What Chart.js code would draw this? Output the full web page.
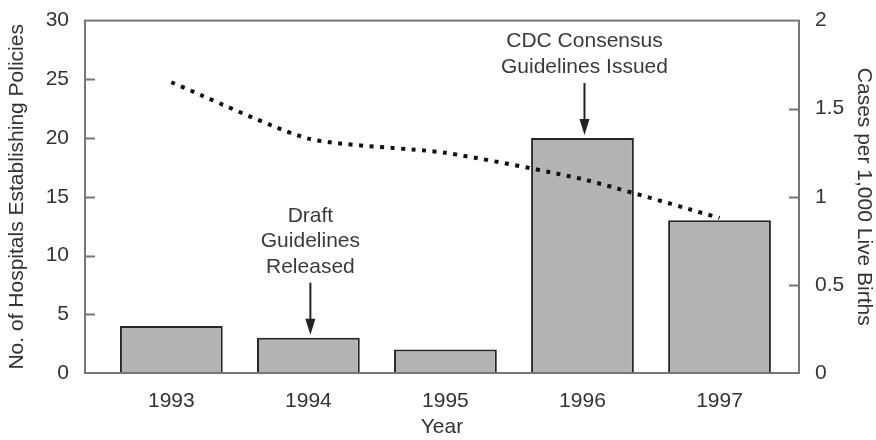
<!DOCTYPE html>
<html>
<head>
<meta charset="utf-8">
<script src="https://cdn.jsdelivr.net/npm/chart.js@4.4.1/dist/chart.umd.min.js"></script>
<style>
  body { margin: 0; background: #fff; }
</style>
</head>
<body>
<canvas id="policyChart" width="876" height="440"></canvas>
<script>
// Data
const years = [1993, 1994, 1995, 1996, 1997];
const hospitalPolicies = [4, 3, 2, 20, 13];          // left axis, bars
const casesPerThousand = [1.65, 1.33, 1.25, 1.10, 0.88]; // right axis, dotted line
const leftTicks = [0, 5, 10, 15, 20, 25, 30];
const rightTicks = [0, 0.5, 1, 1.5, 2];

// Notes pointing at bars
const noteYears = [1994, 1996];
const noteTexts = [
    ["Draft", "Guidelines", "Released"],
    ["CDC Consensus", "Guidelines Issued"]
];

const FONT = "'Liberation Sans', Arial, Helvetica, sans-serif";
const TEXT = '#333';

// frame, inward ticks and the arrow notes
const extras = {
    id: 'extras',
    afterDatasetsDraw(chart) {
        const ctx = chart.ctx;
        const a = chart.chartArea;
        const x = chart.scales.x, y = chart.scales.y, y2 = chart.scales.y2;
        ctx.save();
        ctx.strokeStyle = '#777';
        ctx.lineWidth = 2;
        ctx.strokeRect(a.left, a.top, a.right - a.left, a.bottom - a.top);

        ctx.beginPath();
        leftTicks.slice(1, -1).forEach(v => {
            const py = Math.round(y.getPixelForValue(v)) + 0.5;
            ctx.moveTo(a.left, py);
            ctx.lineTo(a.left + 10, py);
        });
        rightTicks.slice(1, -1).forEach(v => {
            const py = Math.round(y2.getPixelForValue(v)) + 0.5;
            ctx.moveTo(a.right, py);
            ctx.lineTo(a.right - 10, py);
        });
        ctx.stroke();

        ctx.font = '21px ' + FONT;
        ctx.textAlign = 'center';
        ctx.textBaseline = 'middle';
        noteYears.forEach((yr, i) => {
            const idx = years.indexOf(yr);
            const cx = x.getPixelForValue(yr) + 2;
            const tip = y.getPixelForValue(hospitalPolicies[idx]) - 3;
            const start = tip - 52;
            ctx.strokeStyle = '#222';
            ctx.fillStyle = '#222';
            ctx.lineWidth = 2;
            ctx.beginPath();
            ctx.moveTo(cx, start);
            ctx.lineTo(cx, tip - 12);
            ctx.stroke();
            ctx.beginPath();
            ctx.moveTo(cx - 5, tip - 16);
            ctx.lineTo(cx + 5, tip - 16);
            ctx.lineTo(cx, tip);
            ctx.closePath();
            ctx.fill();

            const lines = noteTexts[i];
            ctx.fillStyle = '#3a3a3a';
            lines.forEach((t, k) => {
                const ly = start - 16 - (lines.length - 1 - k) * 25.5;
                ctx.fillText(t, cx, ly);
            });
        });
        ctx.restore();
    }
};

new Chart(document.getElementById('policyChart').getContext('2d'), {
    data: {
        datasets: [{
            type: 'line',
            data: years.map((yr, i) => ({ x: yr, y: casesPerThousand[i] })),
            yAxisID: 'y2',
            borderColor: '#111',
            borderWidth: 4,
            borderDash: [4, 6.5],
            borderCapStyle: 'butt',
            tension: 0.2,
            pointRadius: 0,
            order: 0
        }, {
            type: 'bar',
            data: years.map((yr, i) => ({ x: yr, y: hospitalPolicies[i] })),
            yAxisID: 'y',
            backgroundColor: '#b3b3b3',
            borderColor: '#262626',
            borderWidth: 2,
            categoryPercentage: 1,
            barPercentage: 0.75,
            order: 1
        }]
    },
    options: {
        responsive: false,
        animation: false,
        layout: { padding: { top: 14, left: 0, right: 0, bottom: 0 } },
        plugins: { legend: { display: false }, tooltip: { enabled: false } },
        scales: {
            x: {
                type: 'linear',
                offset: false,
                min: 1992.37,
                max: 1997.58,
                afterBuildTicks: s => { s.ticks = years.map(v => ({ value: v })); },
                afterFit: s => { s.height = 67; },
                grid: { display: false, offset: false },
                border: { display: false },
                ticks: {
                    padding: 8,
                    color: TEXT,
                    font: { family: FONT, size: 21 },
                    callback: v => String(v)
                },
                title: {
                    display: true,
                    text: 'Year',
                    color: TEXT,
                    font: { family: FONT, size: 21 },
                    padding: 0
                }
            },
            y: {
                position: 'left',
                min: 0,
                max: 30,
                afterBuildTicks: s => { s.ticks = leftTicks.map(v => ({ value: v })); },
                afterFit: s => { s.width = 85; },
                grid: { display: false },
                border: { display: false },
                ticks: { padding: 8, color: TEXT, font: { family: FONT, size: 21 } },
                title: {
                    display: true,
                    text: 'No. of Hospitals Establishing Policies',
                    color: TEXT,
                    font: { family: FONT, size: 21 },
                    padding: { top: 5, bottom: 0 }
                }
            },
            y2: {
                position: 'right',
                min: 0,
                max: 2,
                afterBuildTicks: s => { s.ticks = rightTicks.map(v => ({ value: v })); },
                afterFit: s => { s.width = 77; },
                grid: { display: false },
                border: { display: false },
                ticks: {
                    padding: 8,
                    color: TEXT,
                    font: { family: FONT, size: 21 },
                    callback: v => String(v)
                },
                title: {
                    display: true,
                    text: 'Cases per 1,000 Live Births',
                    color: TEXT,
                    font: { family: FONT, size: 21 },
                    padding: { top: 0, bottom: 0 }
                }
            }
        }
    },
    plugins: [extras]
});
</script>
</body>
</html>
